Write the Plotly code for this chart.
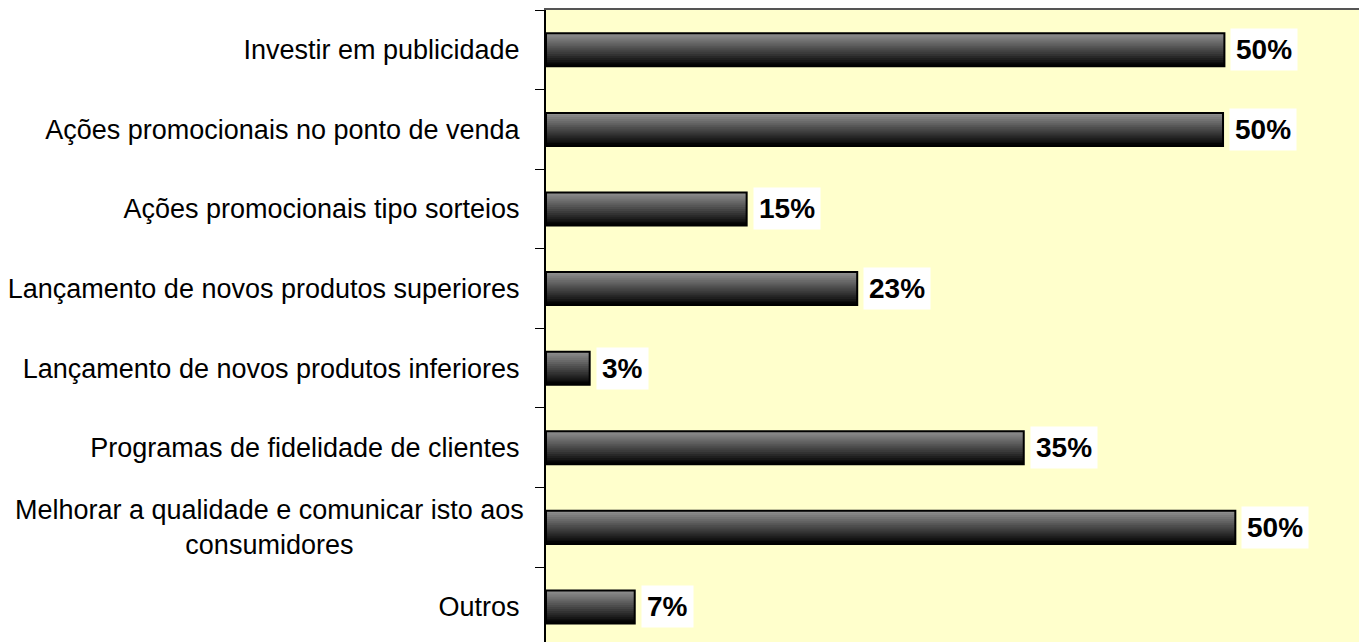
import plotly.graph_objects as go

# ---------------- data ----------------
categorias = [
    "Investir em publicidade",
    "Ações promocionais no ponto de venda",
    "Ações promocionais tipo sorteios",
    "Lançamento de novos produtos superiores",
    "Lançamento de novos produtos inferiores",
    "Programas de fidelidade de clientes",
    "Melhorar a qualidade e comunicar isto aos<br>consumidores",
    "Outros",
]
valores = [49.7, 49.6, 14.7, 22.8, 3.2, 35.0, 50.5, 6.5]
rotulos = ["50%", "50%", "15%", "23%", "3%", "35%", "50%", "7%"]

FONT = "Arial, Liberation Sans, sans-serif"
BAR_W = 0.415
N_SLICES = 16

fig = go.Figure()

# --- gradient fill: thin overlaid slices, light on top to black at bottom ---
sl = BAR_W / N_SLICES
for i in range(N_SLICES):
    g = int(0x8e - (0x8e - 0x04) * i / (N_SLICES - 1))
    fig.add_trace(go.Bar(
        x=valores, y=categorias, orientation="h",
        width=sl * 1.4, offset=-BAR_W / 2 + i * sl - (0.4 * sl if i == N_SLICES - 1 else 0),
        marker=dict(color=f"rgb({g},{g},{g})", line=dict(width=0)),
        hoverinfo="skip", showlegend=False,
    ))

# outline
fig.add_trace(go.Bar(
    x=valores, y=categorias, orientation="h",
    width=BAR_W, offset=-BAR_W / 2,
    marker=dict(color="rgba(0,0,0,0)", line=dict(color="black", width=2)),
    hoverinfo="skip", showlegend=False,
))

# data labels with white box
for cat, v, t in zip(categorias, valores, rotulos):
    fig.add_annotation(
        x=v, y=cat, text=f"<b>{t}</b>", showarrow=False,
        xanchor="left", yanchor="middle", xshift=6,
        bgcolor="white", borderpad=5,
        font=dict(family=FONT, size=28, color="black"),
    )

# multi-line label, centred like the original
ticktext = [c if "<br>" not in c else "" for c in categorias]
for cat in categorias:
    if "<br>" in cat:
        fig.add_annotation(
            x=0, xref="paper", y=cat, text=cat, showarrow=False,
            xanchor="right", yanchor="middle", align="center", xshift=-20,
            font=dict(family=FONT, size=27, color="black"),
        )

fig.update_layout(
    width=1359, height=634,
    margin=dict(l=538, r=2, t=2, b=0),
    paper_bgcolor="white",
    plot_bgcolor="#FFFFCC",
    barmode="overlay",
    font=dict(family=FONT, size=27, color="black"),
    xaxis=dict(
        range=[0, 60], side="top",
        showline=True, linecolor="#555555", linewidth=2,
        showgrid=False, zeroline=False, showticklabels=False, ticks="",
    ),
    yaxis=dict(
        categoryorder="array", categoryarray=categorias,
        tickvals=categorias, ticktext=ticktext,
        range=[7.44, -0.5],
        showline=True, linecolor="black", linewidth=2, mirror=True,
        ticks="outside", tickson="boundaries", ticklen=9, tickwidth=1, tickcolor="black",
        showgrid=False, zeroline=False,
        tickfont=dict(family=FONT, size=27, color="black"),
        ticklabelstandoff=19,
    ),
)

fig.write_html("out.html")
